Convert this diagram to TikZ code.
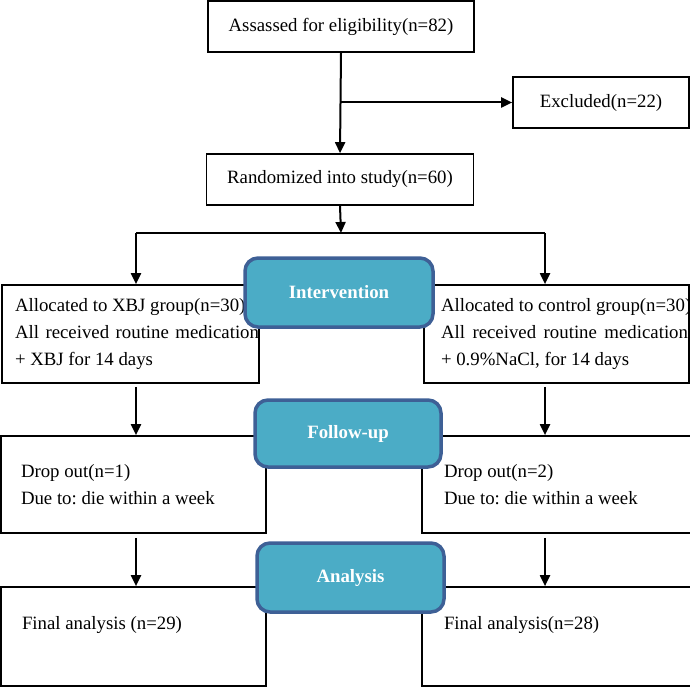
\documentclass[tikz,border=0pt]{standalone}
\usepackage{fontspec}
\setmainfont{Liberation Serif}
\usepackage{xcolor}
\usetikzlibrary{arrows.meta}

\definecolor{stagefill}{RGB}{75,172,198}
\definecolor{stageline}{RGB}{62,96,150}
\newcommand\normgap{\spaceskip=0pt\xspaceskip=0pt\relax}

\tikzset{
  box/.style={draw, line width=1.7pt, align=left, inner sep=0pt,
    font=\fontsize{18.8}{27}\selectfont\frenchspacing},
  allocbox/.style={box, minimum width=#1, minimum height=98pt, text width=231pt},
  stage/.style={draw=stageline, fill=stagefill, line width=3.5pt,
    rounded corners=13pt, text=white, inner sep=0pt,
    font=\fontsize{18.8}{27}\selectfont\bfseries},
  arr/.style={-{Triangle[length=11pt,width=10pt]}, line width=2pt}
}

\begin{document}
\begin{tikzpicture}[x=1pt,y=-1pt]
        \useasboundingbox (0,0) rectangle (690,687);

        % Screening
        \node[box, minimum width=266pt, minimum height=51pt] (assess) at (341,26.5) {\normgap Assassed for eligibility(n=82)};
        \node[box, minimum width=176pt, minimum height=51pt] (excl) at (601,102.5) {\normgap Excluded(n=22)};
        \node[box, minimum width=267pt, minimum height=51pt] (rand) at (340,179.5) {\normgap Randomized into study(n=60)};

        % Allocation
        \node[allocbox=257pt, inner xsep=13pt] (xbj) at (130.5,334)
          {\normgap\mbox{Allocated to XBJ group(n=30)}\\ \makebox[244pt][s]{All received routine medication}\\ \mbox{+ XBJ for 14 days}};
        \node[allocbox=265pt, inner xsep=17pt] (ctrl) at (556.5,334)
          {\normgap\mbox{Allocated to control group(n=30)}\\ \makebox[247pt][s]{All received routine medication}\\ \mbox{+ 0.9\%NaCl, for 14 days}};

        % Follow-up
        \node[box, minimum width=265pt, minimum height=97pt, text width=225pt, inner xsep=20pt] (drop1) at (133.5,484.5)
          {\normgap Drop out(n=1)\\ Due to: die within a week};
        \node[box, minimum width=265pt, minimum height=97pt, text width=225pt, inner xsep=22pt] (drop2) at (556.5,484.5)
          {\normgap Drop out(n=2)\\ Due to: die within a week};

        % Analysis
        \node[box, minimum width=265pt, minimum height=99pt, text width=223pt, inner xsep=21pt] (final1) at (133.5,636.5)
          {\normgap Final analysis (n=29)\\ \mbox{}};
        \node[box, minimum width=265pt, minimum height=99pt, text width=225pt, inner xsep=22pt] (final2) at (556.5,636.5)
          {\normgap Final analysis(n=28)\\ \mbox{}};

        % Stage labels
        \node[stage, minimum width=188pt, minimum height=69pt] (interv) at (339,292.5) {Intervention};
        \node[stage, minimum width=186pt, minimum height=67pt] (follow) at (348,433.5) {Follow-up};
        \node[stage, minimum width=187pt, minimum height=69pt] (analys) at (350.5,577.5) {Analysis};

        % Arrows
        \coordinate (split) at (341,233);
        \coordinate (splitL) at (136,233);
        \coordinate (splitR) at (545,233);
        \draw[arr] (assess.south) -- (rand.north);
        \draw[arr] (assess.south |- excl.west) -- (excl.west);
        \draw[arr] (rand.south) -- (split);
        \draw[line width=2pt] (splitL) -- (splitR);
        \draw[arr] (splitL) -- (splitL |- xbj.north);
        \draw[arr] (splitR) -- (splitR |- ctrl.north);
        \draw[arr] ([yshift=-3pt]splitL |- xbj.south) -- (splitL |- drop1.north);
        \draw[arr] ([yshift=-3pt]splitR |- ctrl.south) -- (splitR |- drop2.north);
        \draw[arr] ([yshift=-4pt]splitL |- drop1.south) -- (splitL |- final1.north);
        \draw[arr] ([yshift=-4pt]splitR |- drop2.south) -- (splitR |- final2.north);

    \end{tikzpicture}
\end{document}
